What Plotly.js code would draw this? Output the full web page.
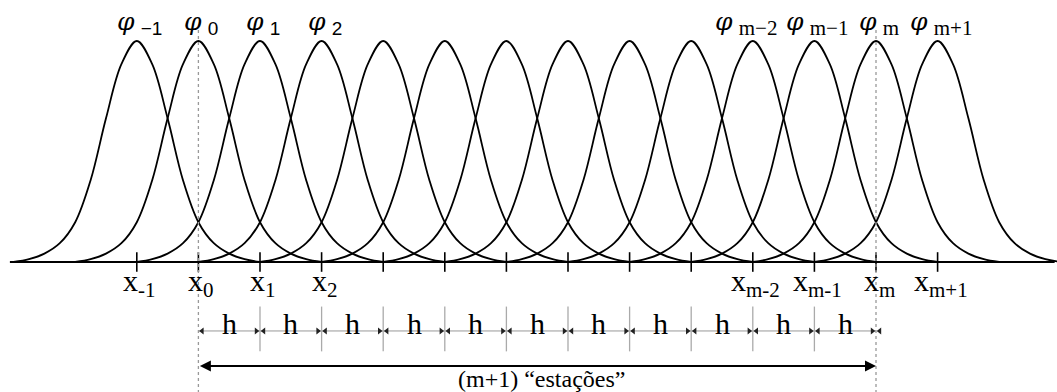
<!DOCTYPE html>
<html><head><meta charset="utf-8">
<script src="https://cdn.plot.ly/plotly-3.0.1.min.js"></script>
<style>html,body{margin:0;padding:0;background:#fff;overflow:hidden}</style>
</head><body><div id="chart" style="width:1057px;height:392px"></div>
<script>
// ---- data ----
const stations = [-1,0,1,2,3,4,5,6,7,8,9,10,11,12];
const phiLabels = ['−1','0','1','2','','','','','','','m−2','m−1','m','m+1'];
const xLabels = ['-1','0','1','2','','','','','','','m-2','m-1','m','m+1'];
// basis-function profile (offset in h, height relative to peak)
const profileOffsets = [-2,-1.75,-1.5,-1.25,-1,-0.75,-0.5,-0.25,0,0.25,0.5,0.75,1,1.25,1.5,1.75,2];
const profileHeights = [0,0.013,0.038,0.085,0.18,0.37,0.65,0.895,1,0.895,0.65,0.37,0.18,0.085,0.038,0.013,0];
const firstStation = 0, lastStation = 11;
const spanLabel = '(m+1) “estações”';
const stepLabel = 'h';

// ---- layout constants ----
const yPhi = 1.081, yX = -0.095, yH = -0.312, yHTick = -0.303, yHText = -0.28, yBig = -0.4706, ySpan = -0.53;
const axisFrom = -3.06, axisTo = 13.9;
const serif = 'Liberation Serif, Times New Roman, serif';
const sans = 'Liberation Sans, Arial, sans-serif';
const phiShift = {'m−2': -10};

const traces = [];
stations.forEach(c => {
  traces.push({x: profileOffsets.map(o => c + o), y: profileHeights, mode: 'lines',
    line: {color: '#000', width: 1.8, shape: 'spline', smoothing: 1}, hoverinfo: 'skip'});
});
// axis
traces.push({x: [axisFrom, axisTo], y: [0, 0], mode: 'lines', line: {color: '#000', width: 2}});
// ticks
traces.push({x: stations, y: stations.map(() => 0), mode: 'markers',
  marker: {symbol: 'line-ns', size: 14, color: '#000', line: {color: '#000', width: 1.6}}});
// dotted verticals
[firstStation, lastStation].forEach(k => {
  traces.push({x: [k, k], y: [1.05, -0.6], mode: 'lines', line: {color: '#999', width: 1.3, dash: 'dot'}});
});
// h dimension line
const inner = stations.filter(k => k > firstStation && k < lastStation);
const segStarts = stations.filter(k => k >= firstStation && k <= lastStation);
const segEnds = stations.filter(k => k > firstStation && k <= lastStation);
traces.push({x: [firstStation, lastStation], y: [yH, yH], mode: 'lines', line: {color: '#999', width: 1}});
traces.push({x: inner, y: inner.map(() => yHTick), mode: 'markers',
  marker: {symbol: 'line-ns', size: 32, color: '#aaa', line: {color: '#aaa', width: 1.3}}});
traces.push({x: segStarts.map(k => k + 0.06), y: segStarts.map(() => yH), mode: 'markers',
  marker: {symbol: 'triangle-left', size: 6, color: '#222'}});
traces.push({x: segEnds.map(k => k - 0.06), y: segEnds.map(() => yH), mode: 'markers',
  marker: {symbol: 'triangle-right', size: 6, color: '#222'}});

const annotations = [];
stations.forEach((k, i) => {
  if (phiLabels[i]) {
    const isM = phiLabels[i].indexOf('m') >= 0;
    const fam = isM ? serif : sans;
    const fs = isM ? 21 : 19;
    annotations.push({x: k, y: yPhi, xref: 'x', yref: 'y', showarrow: false, xanchor: 'center', yanchor: 'middle',
      xshift: 3 + (phiShift[phiLabels[i]] || 0),
      text: '<span style="font-family:DejaVu Serif;font-style:italic">φ</span> <sub><span style="font-family:' + fam + ';font-size:' + fs + 'px">' + phiLabels[i] + '</span></sub>',
      font: {family: serif, size: 25, color: '#000'}});
  }
  if (xLabels[i]) {
    annotations.push({x: k, y: yX, xref: 'x', yref: 'y', showarrow: false, xanchor: 'center', yanchor: 'middle', xshift: 3,
      text: 'x<sub>' + xLabels[i] + '</sub>', font: {family: serif, size: 30, color: '#000'}});
  }
});
segEnds.forEach(k => {
  annotations.push({x: k - 0.5, y: yHText, xref: 'x', yref: 'y', showarrow: false, xanchor: 'center', yanchor: 'middle',
    text: stepLabel, font: {family: serif, size: 30, color: '#000'}});
});
annotations.push({x: lastStation, y: yBig, ax: firstStation, ay: yBig, xref: 'x', yref: 'y', axref: 'x', ayref: 'y',
  text: '', showarrow: true, arrowside: 'end+start', arrowhead: 2, arrowsize: 1.1, arrowwidth: 2, arrowcolor: '#000',
  standoff: 0, startstandoff: 0});
annotations.push({x: (firstStation + lastStation) / 2, y: ySpan, xref: 'x', yref: 'y', showarrow: false,
  xanchor: 'center', yanchor: 'middle', xshift: 4, text: spanLabel, font: {family: serif, size: 24, color: '#000'}});

const layout = {
  width: 1057, height: 392, margin: {l: 0, r: 0, t: 0, b: 0},
  paper_bgcolor: '#fff', plot_bgcolor: '#fff', showlegend: false, hovermode: false,
  xaxis: {range: [-198.4 / 61.6, (1057 - 198.4) / 61.6], visible: false, fixedrange: true},
  yaxis: {range: [-0.5882, 1.1855], visible: false, fixedrange: true},
  annotations: annotations
};
Plotly.newPlot('chart', traces, layout, {staticPlot: true, displayModeBar: false});
</script></body></html>
